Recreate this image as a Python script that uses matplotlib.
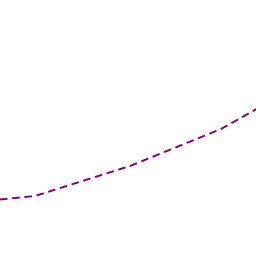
import matplotlib
matplotlib.use("Agg")
import matplotlib.pyplot as plt

# values (pixel-like units, y grows downward)
xs = [0, 35, 130, 221, 262]
ys = [199.5, 196, 166, 129, 106]

fig = plt.figure(figsize=(2.56, 2.56), dpi=100)
ax = fig.add_axes([0, 0, 1, 1])
ax.plot(xs, ys, color="#800080", linewidth=1.4, dashes=(3.9, 2.4))
ax.set_xlim(0, 256)
ax.set_ylim(256, 0)
ax.axis("off")
fig.savefig("out.png", dpi=100)
